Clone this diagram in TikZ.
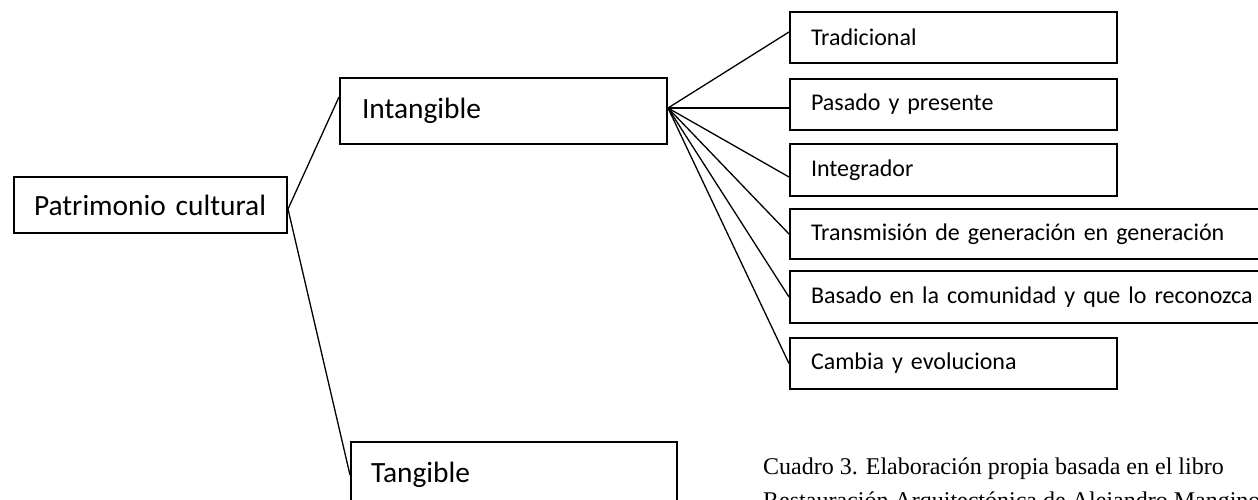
\documentclass[tikz,border=0pt]{standalone}
\usepackage{fontspec}
\setmainfont{Carlito}
\newfontfamily\capfont{Liberation Serif}
\tikzset{
  box/.style={draw, line width=2pt, anchor=north west, inner ysep=0pt, align=left},
  bigtxt/.style={font=\fontsize{29.4}{34}\selectfont},
  smalltxt/.style={font=\fontsize{24}{28}\selectfont},
  conn/.style={line width=1.3pt},
  captxt/.style={font=\capfont\fontsize{24}{28}\selectfont, anchor=base west, inner sep=0pt}
}
\begin{document}
\begin{tikzpicture}[x=1pt,y=-1pt]
\useasboundingbox (0,0) rectangle (1258,500);
\clip (0,0) rectangle (1258,500);
\fill[white] (0,0) rectangle (1258,500);
% main boxes
\node[box, bigtxt, inner xsep=20pt, text width=233pt, minimum height=56pt] (pc) at (13,176) {Patrimonio cultural};
\node[box, bigtxt, inner xsep=22pt, text width=283pt, minimum height=66pt] (int) at (339,77) {Intangible};
\node[box, bigtxt, inner xsep=20pt, text width=286pt, minimum height=66pt] (tan) at (350,441) {Tangible};
% characteristic boxes
\node[box, smalltxt, inner xsep=21pt, text width=285pt, minimum height=51pt] (tra) at (789,11) {Tradicional};
\node[box, smalltxt, inner xsep=21pt, text width=285pt, minimum height=51pt] (pas) at (789,78) {Pasado y presente};
\node[box, smalltxt, inner xsep=21pt, text width=285pt, minimum height=52pt] (ing) at (789,143) {Integrador};
\node[box, smalltxt, inner xsep=21pt, text width=460pt, minimum height=50pt] (trm) at (789,208) {Transmisión de generación en generación};
\node[box, smalltxt, inner xsep=21pt, text width=460pt, minimum height=52pt] (bas) at (789,270) {Basado en la comunidad y que lo reconozca};
\node[box, smalltxt, inner xsep=21pt, text width=285pt, minimum height=51pt] (cam) at (789,337) {Cambia y evoluciona};
% connectors
\coordinate (po) at ([yshift=-4pt]pc.east);
\coordinate (io) at ([yshift=3pt]int.east);
\draw[conn] (po) -- ([yshift=-20pt]int.north west);
\draw[conn] (po) -- (tan.west);
\draw[conn] (io) -- ([yshift=5.5pt]tra.west);
\draw[conn] (io) -- ([yshift=-3.5pt]pas.west);
\draw[conn] (io) -- ([yshift=-7pt]ing.west);
\draw[conn] (io) -- (trm.west);
\draw[conn] (io) -- (bas.west);
\draw[conn] (io) -- (cam.west);
% caption
\node[captxt] (cap1) at (763,474) {Cuadro 3. Elaboración propia basada en el libro};
\node[captxt] (cap2) at (763,508.5) {Restauración Arquitectónica de Alejandro Mangino};
\end{tikzpicture}
\end{document}
